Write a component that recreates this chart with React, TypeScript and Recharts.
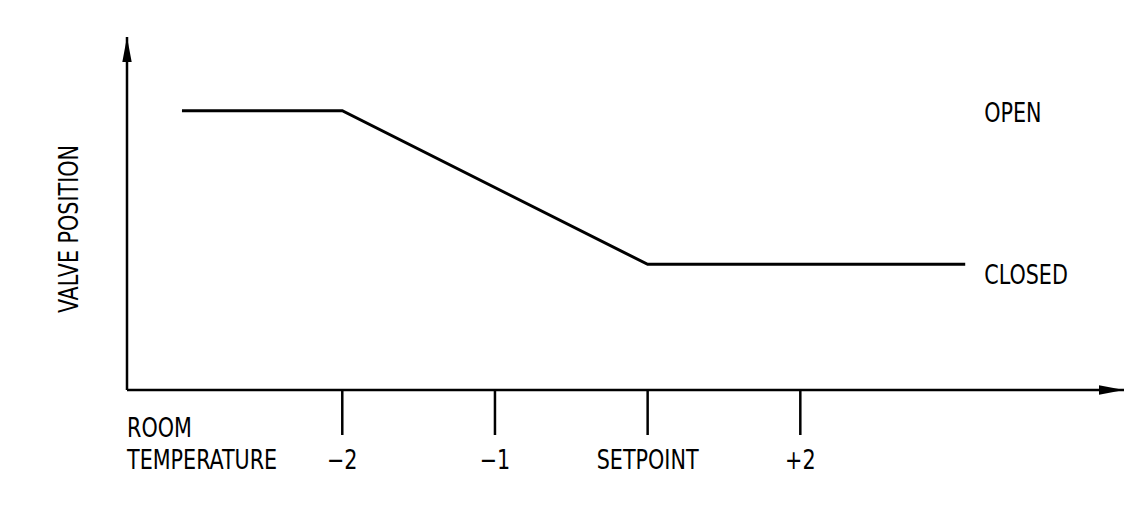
import React from 'react';
import { LineChart, Line, XAxis, YAxis, ReferenceDot } from 'recharts';

// valve position vs room temperature (units of the x axis = one tick step)
const temps = [-3.05, -2, 0, 2.08];
const valve = [79.1, 79.1, 35.6, 35.6];
const tickValues = [-2, -1, 0, 1];
const tickLabels = ['\u22122', '\u22121', 'SETPOINT', '+2'];
const OPEN = 79.1;
const CLOSED = 35.6;
const stateLabels = [
  { name: 'OPEN', value: OPEN, dy: 11 },
  { name: 'CLOSED', value: CLOSED, dy: 20 },
];

const data = temps.map((t, i) => ({ t, v: valve[i] }));

const FONT = "'DejaVu Sans Condensed', 'DejaVu Sans', sans-serif";
const txt = { fontFamily: FONT, fontSize: 26, fontStretch: 'condensed' as const, fill: '#000' };

// narrow CAD-like lettering: squeeze the text horizontally
const Narrow = ({ x, y, anchor = 'start', rotate = 0, children }: any) => (
  <g transform={`translate(${x} ${y}) rotate(${rotate}) scale(0.885 1)`}>
    <text x={0} y={0} textAnchor={anchor} style={txt}>
      {children}
    </text>
  </g>
);

const XTick = (props: any) => {
  const { x, y, payload } = props;
  const i = tickValues.indexOf(payload.value);
  return (
    <Narrow x={x} y={y + 32} anchor="middle">
      {tickLabels[i]}
    </Narrow>
  );
};

const App = () => {
  return (
    <div style={{ position: 'absolute', left: 0, top: 0 }}>
      <svg width={0} height={0} style={{ position: 'absolute' }}>
        <defs>
          <marker
            id="arrow"
            markerUnits="userSpaceOnUse"
            markerWidth={26}
            markerHeight={10}
            refX={25}
            refY={4.7}
            orient="auto-start-reverse"
          >
            <path d="M0,0 L25,4.7 L0,9.4 Z" fill="#000" />
          </marker>
        </defs>
      </svg>
      <LineChart width={1128} height={520} data={data} margin={{ top: 37, right: 4, left: 0, bottom: 0 }}>
        <XAxis
          dataKey="t"
          type="number"
          domain={[-3.41, 3.12]}
          ticks={tickValues}
          height={130}
          tickSize={45}
          axisLine={{ stroke: '#000', strokeWidth: 2.5, markerEnd: 'url(#arrow)' }}
          tickLine={{ stroke: '#000', strokeWidth: 2.5 }}
          tick={<XTick />}
          interval={0}
          allowDataOverflow
          label={{
            content: (p: any) => {
              const vb = p.viewBox;
              return (
                <g>
                  <Narrow x={vb.x} y={vb.y + 47}>ROOM</Narrow>
                  <Narrow x={vb.x} y={vb.y + 79}>TEMPERATURE</Narrow>
                </g>
              );
            },
          }}
        />
        <YAxis
          type="number"
          domain={[0, 100]}
          width={127}
          tick={false}
          tickLine={false}
          axisLine={{ stroke: '#000', strokeWidth: 2.5, markerStart: 'url(#arrow)' }}
          allowDataOverflow
          label={{
            content: () => (
              <Narrow x={78} y={229} anchor="middle" rotate={-90}>
                VALVE POSITION
              </Narrow>
            ),
          }}
        />
        <Line
          type="linear"
          dataKey="v"
          stroke="#000"
          strokeWidth={3}
          dot={false}
          activeDot={false}
          isAnimationActive={false}
        />
        {stateLabels.map((s) => (
          <ReferenceDot
            key={s.name}
            x={temps[temps.length - 1]}
            y={s.value}
            r={0}
            fill="none"
            stroke="none"
            label={{
              content: (p: any) => (
                <Narrow x={p.viewBox.x + 19} y={p.viewBox.y + s.dy}>
                  {s.name}
                </Narrow>
              ),
            }}
          />
        ))}
      </LineChart>
    </div>
  );
};

export default App;
